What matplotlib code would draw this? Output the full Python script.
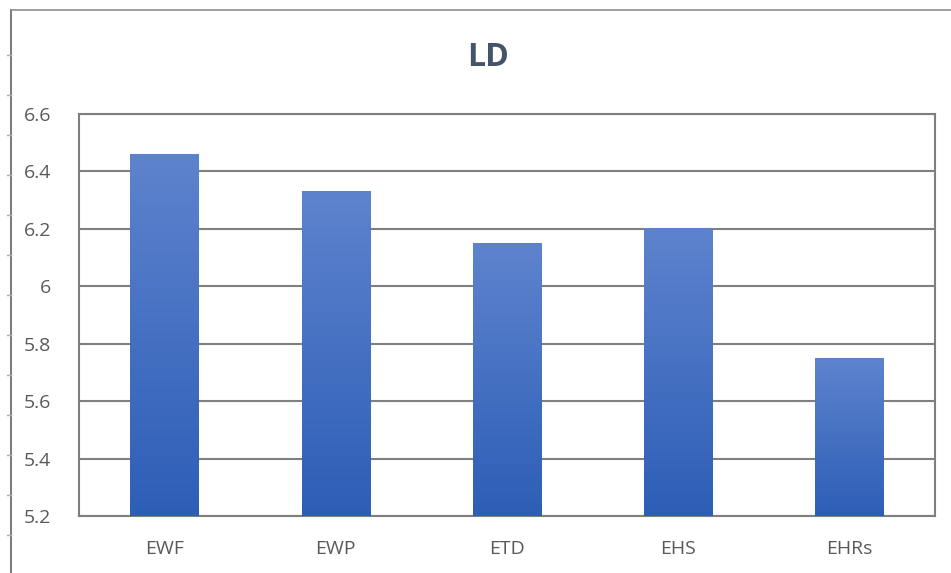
import numpy as np
import matplotlib.pyplot as plt
from matplotlib.lines import Line2D

categories = ['EWF', 'EWP', 'ETD', 'EHS', 'EHRs']
values = [6.46, 6.33, 6.15, 6.20, 5.75]
yticks = [5.2, 5.4, 5.6, 5.8, 6.0, 6.2, 6.4, 6.6]
ylabels = ['5.2', '5.4', '5.6', '5.8', '6', '6.2', '6.4', '6.6']

plt.rcParams['font.family'] = ['Open Sans', 'DejaVu Sans']

fig = plt.figure(figsize=(9.51, 5.73), dpi=100)
ax = fig.add_axes([79/951, 1-516/573, (935-79)/951, (516-114)/573])

ymin, ymax = 5.2, 6.6
x = np.arange(len(categories))
bw = 0.4

# gradient: light at top, darker at bottom
top_c = np.array([94, 131, 206]) / 255
bot_c = np.array([45, 94, 182]) / 255
grad = np.linspace(0, 1, 256)[:, None]
img = (top_c[None, None, :] * (1 - grad[..., None]) + bot_c[None, None, :] * grad[..., None])

for xi, v in zip(x, values):
    ax.imshow(img, extent=(xi - bw/2, xi + bw/2, ymin, v), aspect='auto',
              interpolation='bilinear', zorder=3, origin='upper')

ax.set_xlim(-0.5, len(categories) - 0.5)
ax.set_ylim(ymin, ymax)
ax.set_yticks(yticks)
ax.set_yticklabels(ylabels)
ax.set_xticks(x)
ax.set_xticklabels(categories)
ax.tick_params(length=0, labelsize=14, colors='#595959')
ax.tick_params(axis='y', pad=20)
ax.tick_params(axis='x', pad=17)
ax.grid(axis='y', color='#7f7f7f', linewidth=1.5, zorder=1)
for s in ax.spines.values():
    s.set_color('#7f7f7f')
    s.set_linewidth(1.5)

fig.text(488/951, 1-57/573, 'LD', ha='center', va='center', fontsize=23,
         fontweight='bold', color='#44546a')

# outer frame of the chart area (top and left edge)
fig.add_artist(Line2D([11/951, 11/951], [0, 1-10/573], color='#7f7f7f', lw=1.5))
fig.add_artist(Line2D([11/951, 1], [1-10/573, 1-10/573], color='#8c8c8c', lw=1.2))
for ty in range(55, 573, 40):
    fig.add_artist(Line2D([7/951, 11/951], [1-ty/573, 1-ty/573], color='#b0b0b0', lw=1))

fig.savefig('out.png', dpi=100)
